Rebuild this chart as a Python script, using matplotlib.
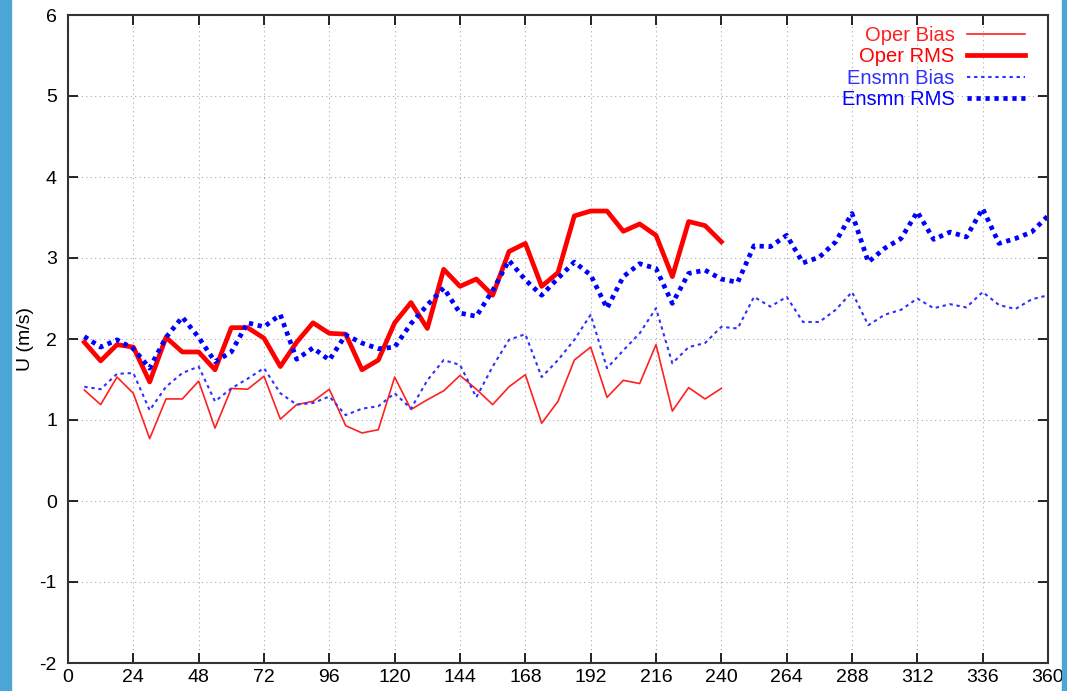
import numpy as np
import matplotlib
matplotlib.use("Agg")
import matplotlib.pyplot as plt
from matplotlib.patches import Rectangle

plt.rcParams['font.family'] = ['Liberation Sans', 'DejaVu Sans']
plt.rcParams['axes.unicode_minus'] = False

# forecast hour (every 6 h)
hours_oper = np.arange(6, 241, 6)
hours_ens = np.arange(6, 361, 6)

oper_bias = [1.37, 1.19, 1.53, 1.33, 0.77, 1.26, 1.26, 1.48, 0.90, 1.39,
             1.38, 1.54, 1.01, 1.19, 1.23, 1.38, 0.93, 0.84, 0.88, 1.53,
             1.13, 1.25, 1.36, 1.55, 1.38, 1.19, 1.41, 1.56, 0.96, 1.23,
             1.74, 1.90, 1.28, 1.49, 1.45, 1.93, 1.11, 1.40, 1.26, 1.39]
oper_rms = [1.96, 1.73, 1.93, 1.90, 1.47, 2.02, 1.84, 1.84, 1.62, 2.14,
            2.14, 2.01, 1.66, 1.96, 2.20, 2.07, 2.06, 1.62, 1.74, 2.20,
            2.45, 2.13, 2.86, 2.65, 2.74, 2.54, 3.08, 3.18, 2.65, 2.82,
            3.52, 3.58, 3.58, 3.33, 3.42, 3.28, 2.77, 3.45, 3.40, 3.20]
ens_bias = [1.41, 1.38, 1.57, 1.58, 1.12, 1.41, 1.58, 1.66, 1.23, 1.39,
            1.51, 1.64, 1.33, 1.19, 1.21, 1.29, 1.06, 1.14, 1.17, 1.33,
            1.14, 1.49, 1.74, 1.68, 1.28, 1.66, 1.99, 2.06, 1.53, 1.74,
            1.99, 2.30, 1.64, 1.86, 2.07, 2.38, 1.70, 1.90, 1.95, 2.15,
            2.13, 2.52, 2.40, 2.52, 2.21, 2.21, 2.36, 2.58, 2.17, 2.30,
            2.36, 2.50, 2.38, 2.43, 2.39, 2.58, 2.42, 2.37, 2.49, 2.54]
ens_rms = [2.03, 1.90, 1.99, 1.88, 1.64, 2.02, 2.27, 2.02, 1.72, 1.84,
           2.20, 2.15, 2.30, 1.75, 1.89, 1.74, 2.05, 1.95, 1.88, 1.90,
           2.19, 2.42, 2.63, 2.32, 2.28, 2.60, 2.97, 2.73, 2.54, 2.75,
           2.95, 2.79, 2.38, 2.77, 2.93, 2.87, 2.44, 2.81, 2.85, 2.74,
           2.70, 3.15, 3.14, 3.28, 2.94, 3.01, 3.20, 3.55, 2.95, 3.12,
           3.24, 3.57, 3.23, 3.32, 3.26, 3.61, 3.18, 3.24, 3.32, 3.52]

fig = plt.figure(figsize=(10.67, 6.91), dpi=100)
# slide background strips on the edges
fig.patches.append(Rectangle((0, 0), 11 / 1067, 1, transform=fig.transFigure,
                             color='#4aa6d6', zorder=0))
fig.patches.append(Rectangle((1 - 5 / 1067, 0), 5 / 1067, 1, transform=fig.transFigure,
                             color='#4aa6d6', zorder=0))

ax = fig.add_axes([68 / 1067, 1 - 663 / 691, 980 / 1067, 648 / 691])

ax.plot(hours_oper, oper_bias, color='#ff2020', lw=1.2, label='Oper Bias')
ax.plot(hours_oper, oper_rms, color='#ff0000', lw=3.4, label='Oper RMS')
ax.plot(hours_ens, ens_bias, color='#3030ff', lw=1.5, dashes=(1.6, 1.8), label='Ensmn Bias')
ax.plot(hours_ens, ens_rms, color='#0000ff', lw=3.4, dashes=(0.9, 1.0), label='Ensmn RMS')

ax.set_xlim(0, 360)
ax.set_ylim(-2, 6)
ax.set_xticks(np.arange(0, 361, 24))
ax.set_yticks(np.arange(-2, 7, 1))
ax.grid(True, linestyle=(0, (1, 3)), color='#aaaaaa', lw=0.8)
ax.tick_params(direction='in', length=7, width=1.2, top=True, right=True,
               labelsize=14)
ax.tick_params(axis='x', pad=4)
ax.tick_params(axis='y', pad=8)
for s in ax.spines.values():
    s.set_color('#333333')
    s.set_linewidth(1.5)

ax.set_ylabel('U (m/s)', fontsize=14, labelpad=4)

leg = ax.legend(loc='upper right', bbox_to_anchor=(1 - 12 / 980, 1),
                frameon=False, markerfirst=False,
                labelcolor='linecolor', fontsize=14.5, handlelength=2.9,
                labelspacing=0.12, handletextpad=0.6,
                borderaxespad=0.15)

fig.savefig('out.png', dpi=100)
